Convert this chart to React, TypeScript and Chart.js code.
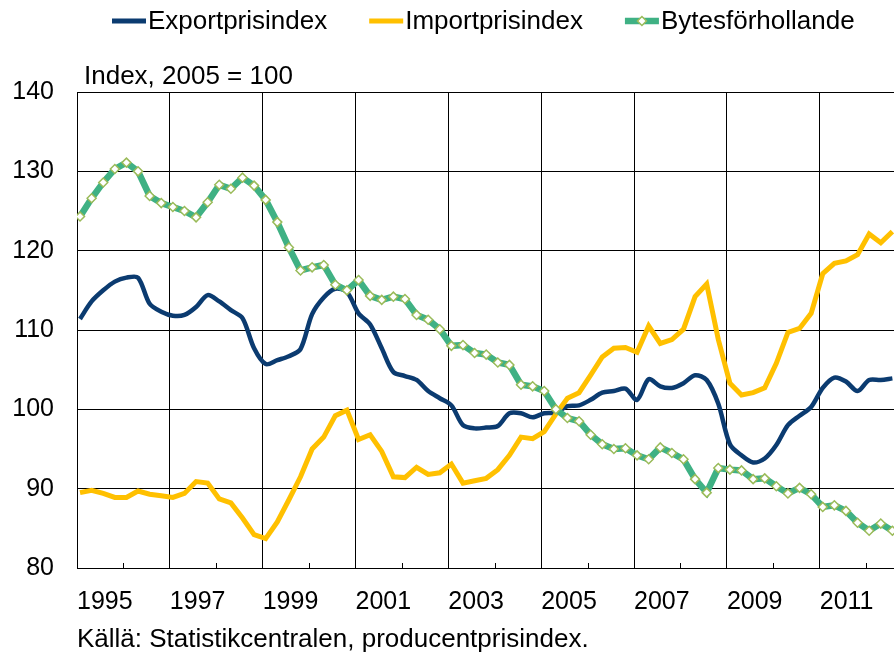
import React, { useEffect, useRef } from "react";
import { Chart, registerables } from "chart.js";

Chart.register(...registerables);

// ---- data (quarterly, 1995 Q1 – 2012 Q3) ----
const SERIES_NAMES = ["Exportprisindex", "Importprisindex", "Bytesförhollande"];
const YEAR_LABELS = ["1995", "1997", "1999", "2001", "2003", "2005", "2007", "2009", "2011"];
const Y_TICKS = [80, 90, 100, 110, 120, 130, 140];
const UNIT_NOTE = "Index, 2005 = 100";
const SOURCE_NOTE = "Källä: Statistikcentralen, producentprisindex.";

const exportIndex = [
  111.4, 113.6, 115.0, 116.1, 116.6, 116.6, 113.3, 112.3,
  111.8, 111.9, 112.9, 114.4, 113.6, 112.5, 111.5, 107.7,
  105.7, 106.2, 106.7, 107.6, 112.0, 114.1, 115.2, 114.8,
  112.1, 110.7, 107.7, 104.7, 104.2, 103.7, 102.3, 101.4,
  100.5, 98.0, 97.6, 97.7, 97.9, 99.5, 99.5, 99.0,
  99.5, 99.6, 100.4, 100.5, 101.2, 102.1, 102.3, 102.6,
  101.2, 103.8, 102.9, 102.7, 103.3, 104.3, 103.7, 100.7,
  95.6, 94.2, 93.3, 93.8, 95.5, 98.0, 99.2, 100.3,
  102.7, 104.0, 103.5, 102.3, 103.7, 103.7, 103.9,
];

const importIndex = [
  89.5, 89.8, 89.4, 88.9, 88.9, 89.7, 89.3, 89.1,
  88.9, 89.4, 90.9, 90.7, 88.7, 88.2, 86.3, 84.2,
  83.7, 85.8, 88.6, 91.5, 95.0, 96.5, 99.2, 99.9,
  96.2, 96.8, 94.7, 91.5, 91.4, 92.7, 91.8, 92.0,
  93.1, 90.7, 91.0, 91.3, 92.4, 94.2, 96.5, 96.3,
  97.2, 99.4, 101.4, 102.1, 104.3, 106.6, 107.7, 107.8,
  107.2, 110.5, 108.3, 108.8, 110.1, 114.2, 115.8, 108.8,
  103.3, 101.8, 102.1, 102.7, 105.8, 109.7, 110.2, 112.1,
  117.1, 118.4, 118.7, 119.5, 122.1, 121.0, 122.4,
];

const termsOfTrade = [
  124.3, 126.6, 128.6, 130.3, 131.1, 130.0, 126.9, 126.0,
  125.5, 125.0, 124.2, 126.1, 128.3, 127.8, 129.2, 128.2,
  126.4, 123.6, 120.4, 117.5, 117.9, 118.2, 115.7, 115.0,
  116.3, 114.3, 113.8, 114.2, 113.9, 111.9, 111.3, 110.1,
  108.0, 108.1, 107.1, 106.9, 105.9, 105.6, 103.1, 102.9,
  102.3, 100.0, 98.9, 98.5, 96.8, 95.6, 95.0, 95.1,
  94.2, 93.7, 95.2, 94.5, 93.7, 91.2, 89.5, 92.6,
  92.4, 92.3, 91.2, 91.3, 90.3, 89.4, 90.1, 89.3,
  87.7, 87.9, 87.2, 85.7, 84.7, 85.6, 84.7,
];

// quarters counted from the start of 1995; each point sits slightly after its quarter start
const POINT_OFFSET = 0.26;
const X_MAX = 70.4;

const NAVY = "#0B3B70";
const GOLD = "#FFC000";
const GREEN = "#3FB184";
const MARKER_EDGE = "#9BBB59";
const FONT = "'Liberation Sans', Arial, sans-serif";

const toXY = (arr: number[]) => arr.map((v, i) => ({ x: i + POINT_OFFSET, y: v }));

const decorPlugin = {
  id: "decor",
  afterDraw(chart: any) {
    const ctx = chart.ctx as CanvasRenderingContext2D;
    const area = chart.chartArea;
    const xs = chart.scales.x;
    ctx.save();
    // small inner tick marks at the start of each year between gridlines
    ctx.strokeStyle = "#000";
    ctx.lineWidth = 1;
    for (let v = 4; v <= X_MAX; v += 8) {
      const px = Math.round(xs.getPixelForValue(v)) + 0.5;
      ctx.beginPath();
      ctx.moveTo(px, area.bottom - 5);
      ctx.lineTo(px, area.bottom);
      ctx.stroke();
    }

    // unit note and source note
    ctx.fillStyle = "#000";
    ctx.font = `26px ${FONT}`;
    ctx.textBaseline = "alphabetic";
    ctx.textAlign = "left";
    ctx.fillText(UNIT_NOTE, area.left + 7, area.top - 8);
    ctx.fillText(SOURCE_NOTE, area.left, 647);

    // legend
    const colors = [NAVY, GOLD, GREEN];
    const widths = [5, 5, 6.5];
    let lx = 112;
    const ly = 21;
    SERIES_NAMES.forEach((name, k) => {
      ctx.strokeStyle = colors[k];
      ctx.lineWidth = widths[k];
      ctx.lineCap = "butt";
      ctx.beginPath();
      ctx.moveTo(lx, ly);
      ctx.lineTo(lx + 34, ly);
      ctx.stroke();
      if (k === 2) {
        const cx = lx + 17;
        ctx.fillStyle = "#fff";
        ctx.strokeStyle = MARKER_EDGE;
        ctx.lineWidth = 1.5;
        ctx.beginPath();
        ctx.moveTo(cx, ly - 4.5);
        ctx.lineTo(cx + 4.5, ly);
        ctx.lineTo(cx, ly + 4.5);
        ctx.lineTo(cx - 4.5, ly);
        ctx.closePath();
        ctx.fill();
        ctx.stroke();
      }
      ctx.fillStyle = "#000";
      ctx.textBaseline = "middle";
      ctx.fillText(name, lx + 36, ly + 1);
      lx += 36 + ctx.measureText(name).width + 42;
    });
    ctx.restore();
  },
};

export default function App() {
  const canvasRef = useRef<HTMLCanvasElement | null>(null);

  useEffect(() => {
    document.body.style.margin = "0";
    const canvas = canvasRef.current;
    if (!canvas) return;
    const chart = new Chart(canvas, {
      type: "line",
      data: {
        datasets: [
          {
            label: SERIES_NAMES[0],
            data: toXY(exportIndex),
            borderColor: NAVY,
            backgroundColor: NAVY,
            borderWidth: 4.5,
            pointRadius: 0,
            tension: 0.3,
            order: 2,
          },
          {
            label: SERIES_NAMES[1],
            data: toXY(importIndex),
            borderColor: GOLD,
            backgroundColor: GOLD,
            borderWidth: 5,
            pointRadius: 0,
            tension: 0,
            order: 1,
          },
          {
            label: SERIES_NAMES[2],
            data: toXY(termsOfTrade),
            borderColor: GREEN,
            backgroundColor: "#fff",
            borderWidth: 6.5,
            pointStyle: "rectRot",
            pointRadius: 4.5,
            pointBackgroundColor: "#fff",
            pointBorderColor: MARKER_EDGE,
            pointBorderWidth: 1.5,
            tension: 0,
            order: 0,
          },
        ],
      },
      options: {
        animation: false,
        responsive: false,
        maintainAspectRatio: false,
        devicePixelRatio: 1,
        layout: { autoPadding: false, padding: { top: 92, left: 0, right: 0, bottom: 0 } },
        plugins: {
          legend: { display: false },
          title: { display: false },
          tooltip: { enabled: false },
        },
        scales: {
          x: {
            type: "linear",
            min: 0,
            max: X_MAX,
            afterFit: (s: any) => {
              s.height = 87;
              s.paddingLeft = 0;
              s.paddingRight = 0;
            },
            border: { display: true, color: "#000", width: 1 },
            grid: {
              drawTicks: false,
              lineWidth: 1,
              color: (c: any) =>
                c.tick && Math.round(c.tick.value) % 8 === 0 ? "#000" : "rgba(0,0,0,0)",
            },
            ticks: {
              stepSize: 4,
              includeBounds: false,
              autoSkip: false,
              maxRotation: 0,
              align: "start",
              padding: 19,
              color: "#000",
              font: { family: FONT, size: 25 },
              callback: (v: any) => {
                const n = Math.round(Number(v));
                return n % 8 === 0 ? YEAR_LABELS[n / 8] ?? "" : "";
              },
            },
          },
          y: {
            min: Y_TICKS[0],
            max: Y_TICKS[Y_TICKS.length - 1],
            afterFit: (s: any) => {
              s.width = 77;
            },
            afterBuildTicks: (s: any) => {
              s.ticks = Y_TICKS.map((v) => ({ value: v }));
            },
            border: { display: true, color: "#000", width: 1 },
            grid: { color: "#000", lineWidth: 1, drawTicks: false },
            ticks: {
              padding: 23,
              color: "#000",
              font: { family: FONT, size: 25 },
            },
          },
        },
      },
      plugins: [decorPlugin],
    });
    return () => chart.destroy();
  }, []);

  return (
    <div style={{ width: 894, height: 655, position: "relative" }}>
      <canvas ref={canvasRef} width={894} height={655} style={{ display: "block" }} />
    </div>
  );
}
